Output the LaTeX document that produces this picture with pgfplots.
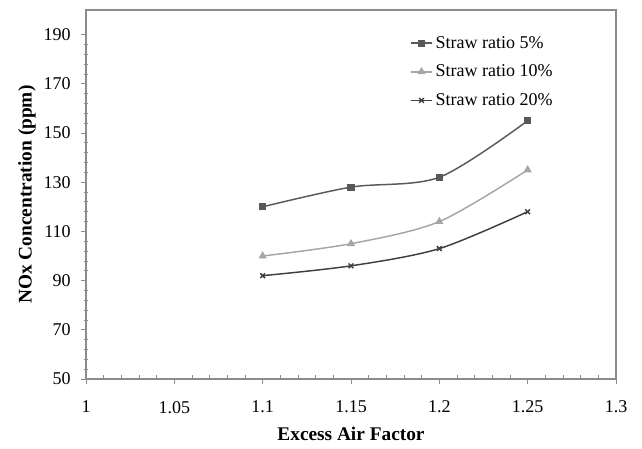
\documentclass[border=0pt]{standalone}
\usepackage{fontspec}
\setmainfont{Liberation Serif}
\usepackage{pgfplots}
\pgfplotsset{compat=1.18}

\definecolor{s5}{HTML}{595959}
\definecolor{s10}{HTML}{A6A6A6}
\definecolor{s20}{HTML}{404040}
\definecolor{axisgray}{HTML}{8C8C8C}

\begin{document}
\begin{tikzpicture}
\path[use as bounding box] (-64.5pt,-52.5pt) rectangle (417pt,284.25pt);
\begin{axis}[
    at={(0,0)}, anchor=south west,
    scale only axis,
    width=397.5pt, height=276.75pt,
    xmin=1, xmax=1.3, ymin=50, ymax=200,
    xtick={1,1.05,...,1.31},
    xticklabels={1,1.05,1.1,1.15,1.2,1.25,1.3},
    ytick={50,70,...,190},
    minor x tick num=4,
    minor y tick num=4,
    xtick pos=bottom, ytick pos=left,
    tick align=outside,
    major tick length=4pt,
    minor tick length=3pt,
    minor x tick style={yshift=3pt},
    minor y tick style={xshift=1.5pt},
    axis line style={axisgray, line width=0.8pt},
    every tick/.style={axisgray, line width=0.6pt},
    tick label style={font=\fontsize{13.5}{16}\selectfont},
    xticklabel style={yshift=-9pt},
    yticklabel style={xshift=-4pt},
    /pgf/number format/assume math mode=true,
    xlabel={\textbf{Excess Air Factor}},
    ylabel={\textbf{NOx Concentration (ppm)}},
    label style={font=\fontsize{14.5}{17}\selectfont},
    xlabel style={at={(axis description cs:0.5,0)}, anchor=center, yshift=-41pt},
    ylabel style={at={(axis description cs:0,0.5)}, anchor=center, yshift=44.25pt},
    legend style={draw=none, fill=none, at={(0.611,0.937)}, anchor=north west,
        font=\fontsize{13.5}{16}\selectfont, row sep=7pt, inner sep=0pt,
        cells={anchor=west}},
    legend image code/.code={
        \draw[mark repeat=2,mark phase=2] plot coordinates {(0pt,0pt) (8pt,0pt) (16pt,0pt)};},
    legend cell align=left,
]
\addplot[color=s5, line width=1.1pt, smooth, mark=square*, mark size=2.1pt] coordinates {
    (1.10, 120) (1.15, 128) (1.20, 132) (1.25, 155)
};
\addlegendentry{Straw ratio 5\%}
\addplot[color=s10, line width=1.1pt, smooth, mark=triangle*, mark size=2.5pt] coordinates {
    (1.10, 100) (1.15, 105) (1.20, 114) (1.25, 135)
};
\addlegendentry{Straw ratio 10\%}
\addplot[color=s20, line width=1.1pt, smooth, mark=x, mark size=2.5pt] coordinates {
    (1.10, 92) (1.15, 96) (1.20, 103) (1.25, 118)
};
\addlegendentry{Straw ratio 20\%}
\end{axis}
\end{tikzpicture}
\end{document}
